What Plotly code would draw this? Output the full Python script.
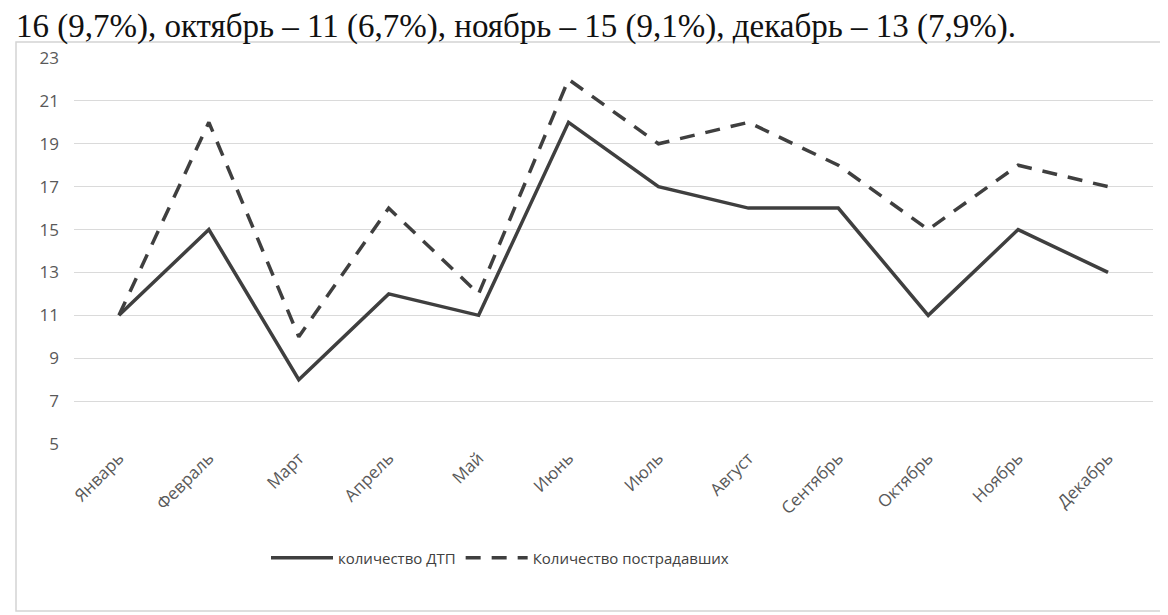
import plotly.graph_objects as go

months = ["Январь", "Февраль", "Март", "Апрель", "Май", "Июнь",
          "Июль", "Август", "Сентябрь", "Октябрь", "Ноябрь", "Декабрь"]
dtp = [11, 15, 8, 12, 11, 20, 17, 16, 16, 11, 15, 13]
injured = [11, 20, 10, 16, 12, 22, 19, 20, 18, 15, 18, 17]
y_ticks = [5, 7, 9, 11, 13, 15, 17, 19, 21, 23]
series_names = ["количество ДТП", "Количество пострадавших"]
top_text = "16 (9,7%), октябрь – 11 (6,7%), ноябрь – 15 (9,1%), декабрь – 13 (7,9%)."

W, H = 1168, 615
L, R, T, B = 66, 23, 50, 179
pw, ph = W - L - R, H - T - B


def px_x(p):
    return (p - L) / pw


def px_y(p):
    return (H - B - p) / ph


fig = go.Figure()
fig.add_trace(go.Scatter(
    x=months, y=dtp, mode="lines", name=series_names[0],
    line=dict(color="#3f3f3f", width=3.5),
))
fig.add_trace(go.Scatter(
    x=months, y=injured, mode="lines", name=series_names[1],
    line=dict(color="#3f3f3f", width=3.5, dash="15px,11px"),
))

fig.add_shape(type="rect", xref="paper", yref="paper",
              x0=px_x(8), x1=px_x(1175), y0=px_y(603), y1=px_y(34),
              line=dict(color="#d4d4d4", width=1.5), fillcolor="rgba(0,0,0,0)",
              layer="below")

fig.add_annotation(text=top_text, xref="paper", yref="paper",
                   x=px_x(6), y=px_y(-2), xanchor="left", yanchor="top",
                   showarrow=False,
                   font=dict(family="Liberation Serif", size=33, color="#111111"))

fig.update_layout(
    width=W, height=H,
    margin=dict(l=L, r=R, t=T, b=B),
    paper_bgcolor="white", plot_bgcolor="white",
    font=dict(family="Open Sans", color="#595959", size=17),
    showlegend=True,
    legend=dict(orientation="h", x=px_x(492), y=px_y(550),
                xanchor="center", yanchor="middle",
                font=dict(family="Open Sans", size=15, color="#404040"),
                itemwidth=62),
    xaxis=dict(type="category", showgrid=False, zeroline=False,
               showline=False, ticks="", tickangle=-45,
               tickfont=dict(family="Open Sans", size=17, color="#595959"),
               range=[-0.5, 11.5]),
    yaxis=dict(range=[5, 23], tickvals=y_ticks, showgrid=True,
               gridcolor="#dadada", gridwidth=1, zeroline=False,
               showline=False, ticks="", ticklabelstandoff=14,
               tickfont=dict(family="Open Sans", size=17, color="#595959")),
)

fig.write_html("out.html")
